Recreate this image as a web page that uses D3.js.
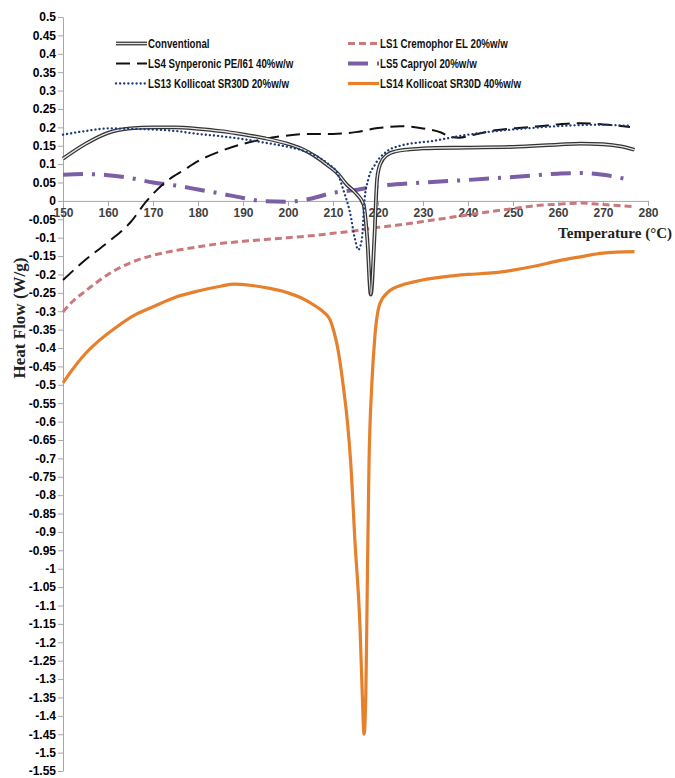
<!DOCTYPE html>
<html>
<head>
<meta charset="utf-8">
<script src="https://cdn.jsdelivr.net/npm/d3@7"></script>
<style>
  body { margin: 0; background: #fff; }
  .tick text { font-family: "Liberation Sans Narrow", "Arial Narrow", Arial, sans-serif; font-weight: bold; }
</style>
</head>
<body>
<svg id="chart" width="675" height="778"></svg>
<script>
// tick values
const xTicks = [150, 160, 170, 180, 190, 200, 210, 220, 230, 240, 250, 260, 270, 280];
const yTicks = [0.5, 0.45, 0.4, 0.35, 0.3, 0.25, 0.2, 0.15, 0.1, 0.05, 0, -0.05, -0.1, -0.15, -0.2, -0.25,
  -0.3, -0.35, -0.4, -0.45, -0.5, -0.55, -0.6, -0.65, -0.7, -0.75, -0.8, -0.85, -0.9, -0.95, -1, -1.05,
  -1.1, -1.15, -1.2, -1.25, -1.3, -1.35, -1.4, -1.45, -1.5, -1.55];

// series, [temperature °C, heat flow W/g]
const conventional = [[150,0.115],[155,0.155],[160,0.185],[165,0.197],[170,0.2],[175,0.2],[180,0.196],
  [185,0.19],[190,0.181],[195,0.17],[200,0.155],[203,0.142],[206,0.122],[209,0.095],[211,0.075],
  [213,0.045],[215,0.022],[216.8,-0.01],[217.6,-0.1],[218.4,-0.255],[219.2,-0.1],[219.8,0.06],
  [220.5,0.1],[222,0.125],[224,0.135],[227,0.14],[230,0.143],[240,0.145],[250,0.147],[260,0.153],
  [265,0.156],[270,0.154],[274,0.148],[277,0.139]];
const ls1 = [[150,-0.302],[152,-0.275],[155,-0.245],[160,-0.2],[165,-0.168],[170,-0.148],[175,-0.135],
  [180,-0.125],[185,-0.116],[190,-0.11],[195,-0.105],[200,-0.1],[205,-0.095],[210,-0.088],[215,-0.081],
  [220,-0.072],[225,-0.065],[230,-0.056],[235,-0.047],[240,-0.038],[245,-0.029],[250,-0.021],
  [255,-0.013],[260,-0.009],[265,-0.006],[270,-0.01],[277,-0.016]];
const ls4 = [[150,-0.215],[155,-0.16],[160,-0.112],[165,-0.058],[168.6,0],[173,0.053],[177,0.085],
  [180,0.108],[185,0.135],[190,0.155],[195,0.169],[200,0.178],[205,0.182],[210,0.182],[215,0.187],
  [220,0.198],[225,0.203],[230,0.197],[234,0.186],[236,0.175],[238,0.172],[242,0.182],[246,0.192],
  [250,0.197],[255,0.202],[260,0.208],[265,0.211],[270,0.208],[276,0.201]];
const ls5 = [[150,0.071],[155,0.073],[160,0.07],[165,0.062],[170,0.05],[175,0.042],[180,0.031],
  [185,0.02],[190,0.008],[195,-0.001],[200,-0.002],[205,0.006],[210,0.022],[215,0.03],[220,0.04],
  [230,0.05],[240,0.057],[250,0.065],[260,0.074],[265,0.076],[270,0.071],[276,0.057]];
const ls13 = [[150,0.18],[155,0.19],[160,0.197],[165,0.196],[170,0.194],[175,0.19],[180,0.182],
  [185,0.176],[190,0.168],[195,0.158],[200,0.147],[203,0.138],[206,0.124],[209,0.1],[211,0.075],
  [212.3,0.03],[213.8,-0.033],[214.9,-0.105],[215.6,-0.133],[216.4,-0.105],[217,0.003],[217.8,0.057],
  [219.3,0.098],[222,0.135],[224.9,0.15],[228.6,0.158],[231.6,0.162],[238.9,0.178],[246.4,0.19],
  [253.8,0.198],[261,0.204],[268.6,0.207],[276,0.204]];
const ls14 = [[150,-0.495],[152,-0.46],[155,-0.415],[158,-0.38],[162,-0.342],[166,-0.31],[170,-0.288],
  [175,-0.262],[180,-0.245],[185,-0.232],[188,-0.226],[192,-0.23],[196,-0.238],[200,-0.25],
  [203,-0.264],[206,-0.285],[208,-0.303],[209.3,-0.322],[210.2,-0.355],[211,-0.397],[211.7,-0.45],
  [212.3,-0.505],[213.2,-0.6],[213.9,-0.705],[214.9,-0.93],[216,-1.157],[216.5,-1.34],[216.9,-1.45],
  [217.3,-1.337],[217.6,-1.065],[218,-0.715],[218.6,-0.505],[219.3,-0.37],[220.4,-0.28],[222.5,-0.245],
  [225,-0.23],[228,-0.22],[235,-0.206],[240,-0.2],[246,-0.195],[250,-0.188],[255,-0.177],
  [260,-0.163],[265,-0.152],[270,-0.142],[277,-0.138]];

const svg = d3.select("#chart");
const x = d3.scaleLinear().domain([150, 280]).range([63, 648]);
const y = d3.scaleLinear().domain([-1.55, 0.5]).range([771, 17]);

const fmt = (d) => String(+d.toFixed(2));

// y axis
const gy = svg.append("g")
  .attr("transform", "translate(63,0)")
  .call(d3.axisLeft(y).tickValues(yTicks).tickFormat(fmt).tickSize(5).tickSizeOuter(0));
gy.select(".domain").attr("stroke", "#a6a6a6");
gy.selectAll(".tick line").attr("stroke", "#a6a6a6");
gy.selectAll(".tick text").attr("font-size", 12).attr("fill", "#000").attr("x", -7);

// x axis along zero
const gx = svg.append("g")
  .attr("transform", `translate(0,${y(0)})`)
  .call(d3.axisBottom(x).tickValues(xTicks).tickFormat(d3.format("d")).tickSize(5).tickSizeOuter(0));
gx.select(".domain").attr("stroke", "#a6a6a6");
gx.selectAll(".tick line").attr("stroke", "#a6a6a6");
gx.selectAll(".tick text").attr("font-size", 12).attr("fill", "#404040").attr("y", 8);

// axis titles
svg.append("text")
  .attr("x", 672).attr("y", 238)
  .attr("text-anchor", "end")
  .attr("font-family", "'Liberation Serif', 'Times New Roman', serif")
  .attr("font-weight", "bold").attr("font-size", 15)
  .attr("fill", "#222")
  .text("Temperature (°C)");

svg.append("text")
  .attr("transform", "translate(25,318) rotate(-90)")
  .attr("text-anchor", "middle")
  .attr("font-family", "'Liberation Serif', 'Times New Roman', serif")
  .attr("font-weight", "bold").attr("font-size", 17)
  .attr("fill", "#222")
  .text("Heat Flow (W/g)");

const line = d3.line().x((d) => x(d[0])).y((d) => y(d[1])).curve(d3.curveMonotoneX);

// series styles
const series = [
  { name: "LS14 Kollicoat SR30D 40%w/w", data: ls14, strokes: [{ c: "#e6802c", w: 3.2 }] },
  { name: "LS1 Cremophor EL 20%w/w", data: ls1, strokes: [{ c: "#c9797b", w: 3, dash: "7,4" }] },
  { name: "LS5 Capryol 20%w/w", data: ls5, strokes: [{ c: "#7b5ea3", w: 4, dash: "20,9,3,9" }] },
  { name: "LS4 Synperonic PE/l61 40%w/w", data: ls4, strokes: [{ c: "#111", w: 2, dash: "14,7" }] },
  { name: "Conventional", data: conventional, strokes: [{ c: "#333", w: 3.8 }, { c: "#e6e6e6", w: 1.3 }] },
  { name: "LS13 Kollicoat SR30D 20%w/w", data: ls13, strokes: [{ c: "#1f3a78", w: 2.3, dash: "0.1,4", cap: "round" }] }
];

series.forEach((s) => {
  s.strokes.forEach((st) => {
    svg.append("path")
      .datum(s.data)
      .attr("fill", "none")
      .attr("stroke", st.c)
      .attr("stroke-width", st.w)
      .attr("stroke-dasharray", st.dash || null)
      .attr("stroke-linecap", st.cap || "butt")
      .attr("stroke-linejoin", "round")
      .attr("d", line);
  });
});

// legend
const legendItems = [
  { key: "Conventional", col: 0, row: 0 },
  { key: "LS4 Synperonic PE/l61 40%w/w", col: 0, row: 1 },
  { key: "LS13 Kollicoat SR30D 20%w/w", col: 0, row: 2 },
  { key: "LS1 Cremophor EL 20%w/w", col: 1, row: 0 },
  { key: "LS5 Capryol 20%w/w", col: 1, row: 1 },
  { key: "LS14 Kollicoat SR30D 40%w/w", col: 1, row: 2 }
];
const colX = [116, 348];
const rowY = [43.5, 63.5, 83.5];

legendItems.forEach((it) => {
  const s = series.find((d) => d.name === it.key);
  const g = svg.append("g").attr("transform", `translate(${colX[it.col]},${rowY[it.row]})`);
  s.strokes.forEach((st) => {
    g.append("line")
      .attr("x1", 0).attr("x2", 31).attr("y1", 0).attr("y2", 0)
      .attr("stroke", st.c)
      .attr("stroke-width", st.w)
      .attr("stroke-dasharray", st.dash || null)
      .attr("stroke-linecap", st.cap || "butt");
  });
  const t = g.append("text")
    .attr("x", 32).attr("y", 4)
    .attr("font-family", "Arial, 'Liberation Sans', sans-serif")
    .attr("font-weight", "bold").attr("font-size", 12)
    .attr("fill", "#111")
    .text(it.key);
  // squeeze to a Calibri-like width
  const w = t.node().getComputedTextLength();
  t.attr("textLength", w * 0.81).attr("lengthAdjust", "spacingAndGlyphs");
});
</script>
</body>
</html>
